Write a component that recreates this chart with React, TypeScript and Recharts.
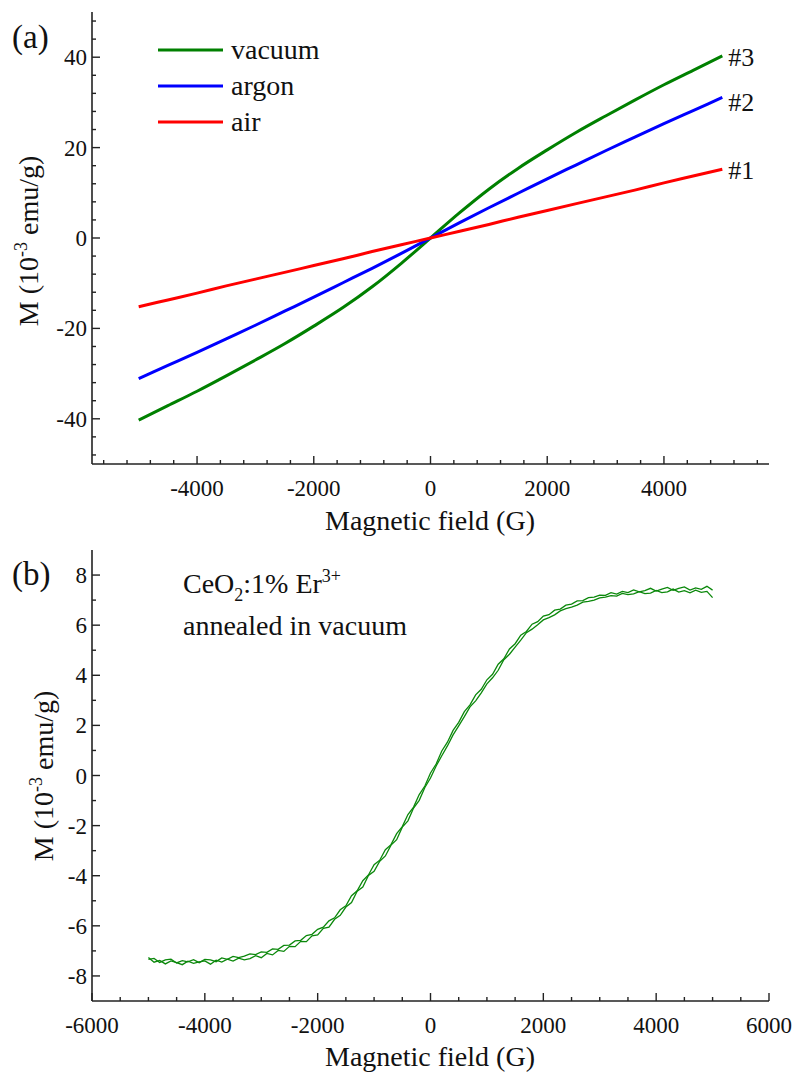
import { Legend, Line, LineChart, XAxis, YAxis } from "recharts";

const FONT = '"Liberation Serif", "Times New Roman", serif';
const AXIS = "#222";

// (a) M-H curves, field in G, M in 10^-3 emu/g
const fieldA = [-5000, -4500, -4000, -3500, -3000, -2500, -2000, -1500, -1000, -500, 0, 500, 1000, 1500, 2000, 2500, 3000, 3500, 4000, 4500, 5000];
const vacuum = [-40.3, -37.1, -33.9, -30.5, -27.0, -23.4, -19.5, -15.4, -10.8, -5.6, 0, 5.6, 10.8, 15.4, 19.5, 23.4, 27.0, 30.5, 33.9, 37.1, 40.3];
const argon = [-31.1, -28.2, -25.3, -22.3, -19.3, -16.2, -13.1, -9.9, -6.7, -3.4, 0, 3.4, 6.7, 9.9, 13.1, 16.2, 19.3, 22.3, 25.3, 28.2, 31.1];
const air = [-15.2, -13.7, -12.2, -10.6, -9.1, -7.6, -6.1, -4.6, -3.0, -1.5, 0, 1.5, 3.0, 4.6, 6.1, 7.6, 9.1, 10.6, 12.2, 13.7, 15.2];
const legendOrder = ["vacuum", "argon", "air"];

const xTicksA = [-5600, -5200, -4800, -4400, -4000, -3600, -3200, -2800, -2400, -2000, -1600, -1200, -800, -400, 0, 400, 800, 1200, 1600, 2000, 2400, 2800, 3200, 3600, 4000, 4400, 4800, 5200, 5600];
const yTicksA = [-48, -44, -40, -36, -32, -28, -24, -20, -16, -12, -8, -4, 0, 4, 8, 12, 16, 20, 24, 28, 32, 36, 40, 44, 48];

// (b) CeO2:1% Er3+ annealed in vacuum, two sweep branches
const fieldB = [
  -5000, -4900, -4800, -4700, -4600, -4500, -4400, -4300, -4200, -4100,
  -4000, -3900, -3800, -3700, -3600, -3500, -3400, -3300, -3200, -3100,
  -3000, -2900, -2800, -2700, -2600, -2500, -2400, -2300, -2200, -2100,
  -2000, -1900, -1800, -1700, -1600, -1500, -1400, -1300, -1200, -1100,
  -1000, -900, -800, -700, -600, -500, -400, -300, -200, -100,
  0,
  100, 200, 300, 400, 500, 600, 700, 800, 900, 1000,
  1100, 1200, 1300, 1400, 1500, 1600, 1700, 1800, 1900, 2000,
  2100, 2200, 2300, 2400, 2500, 2600, 2700, 2800, 2900, 3000,
  3100, 3200, 3300, 3400, 3500, 3600, 3700, 3800, 3900, 4000,
  4100, 4200, 4300, 4400, 4500, 4600, 4700, 4800, 4900, 5000,
];
const sweepUp = [
  -7.26, -7.45, -7.38, -7.52, -7.40, -7.47, -7.55, -7.41, -7.50, -7.44,
  -7.40, -7.53, -7.37, -7.45, -7.33, -7.41, -7.29, -7.36, -7.31, -7.19,
  -7.27, -7.10, -7.16, -6.98, -7.02, -6.82, -6.83, -6.62, -6.63, -6.40,
  -6.36, -6.10, -6.05, -5.74, -5.58, -5.25, -5.07, -4.62, -4.45, -3.99,
  -3.82, -3.42, -3.21, -2.78, -2.56, -2.06, -1.81, -1.30, -0.99, -0.48,
  -0.10,
  0.38, 0.79, 1.18, 1.62, 1.98, 2.35, 2.74, 2.98, 3.30, 3.66,
  3.90, 4.20, 4.62, 4.84, 5.12, 5.40, 5.70, 5.84, 6.02, 6.21,
  6.30, 6.41, 6.57, 6.66, 6.72, 6.80, 6.92, 6.95, 7.00, 7.09,
  7.12, 7.18, 7.16, 7.27, 7.22, 7.25, 7.34, 7.26, 7.28, 7.39,
  7.30, 7.33, 7.44, 7.32, 7.38, 7.29, 7.40, 7.31, 7.35, 7.10,
];
const sweepDown = [
  -7.34, -7.30, -7.46, -7.36, -7.33, -7.48, -7.39, -7.44, -7.35, -7.47,
  -7.34, -7.36, -7.43, -7.28, -7.34, -7.22, -7.27, -7.21, -7.12, -7.15,
  -7.04, -7.06, -6.92, -6.94, -6.78, -6.77, -6.60, -6.58, -6.39, -6.34,
  -6.14, -6.05, -5.80, -5.68, -5.36, -5.20, -4.80, -4.60, -4.20, -3.97,
  -3.56, -3.38, -2.96, -2.76, -2.32, -2.04, -1.56, -1.26, -0.76, -0.42,
  0.10,
  0.46, 0.98, 1.33, 1.80, 2.12, 2.55, 2.82, 3.22, 3.44, 3.82,
  4.04, 4.44, 4.66, 5.05, 5.26, 5.60, 5.75, 6.04, 6.14, 6.36,
  6.42, 6.60, 6.64, 6.80, 6.84, 6.97, 6.98, 7.10, 7.12, 7.20,
  7.19, 7.30, 7.24, 7.35, 7.30, 7.41, 7.33, 7.38, 7.47, 7.36,
  7.44, 7.51, 7.39, 7.47, 7.53, 7.40, 7.49, 7.43, 7.55, 7.40,
];

const xTicksB = [-6000, -5500, -5000, -4500, -4000, -3500, -3000, -2500, -2000, -1500, -1000, -500, 0, 500, 1000, 1500, 2000, 2500, 3000, 3500, 4000, 4500, 5000, 5500, 6000];
const yTicksB = [-8, -7, -6, -5, -4, -3, -2, -1, 0, 1, 2, 3, 4, 5, 6, 7, 8];

const dataA = fieldA.map((h, i) => ({ h, vacuum: vacuum[i], argon: argon[i], air: air[i] }));
const dataB = fieldB.map((h, i) => ({ h, up: sweepUp[i], down: sweepDown[i] }));

const isMajor = (v: number, step: number) => Math.abs(v % step) < 1e-6;

const xTick = (step: number) => (props: any) => {
  const { x, y, payload } = props;
  const major = isMajor(payload.value, step);
  return (
    <g>
      <line x1={x} x2={x} y1={y} y2={y - (major ? 8 : 4)} stroke={AXIS} strokeWidth={1.4} />
      {major ? (
        <text x={x} y={y + 32} textAnchor="middle" fontFamily={FONT} fontSize={23} fill="#111">
          {payload.value}
        </text>
      ) : null}
    </g>
  );
};

const yTick = (step: number) => (props: any) => {
  const { x, y, payload } = props;
  const major = isMajor(payload.value, step);
  return (
    <g>
      <line x1={x} x2={x + (major ? 8 : 4)} y1={y} y2={y} stroke={AXIS} strokeWidth={1.4} />
      {major ? (
        <text x={x - 5} y={y + 8} textAnchor="end" fontFamily={FONT} fontSize={23} fill="#111">
          {payload.value}
        </text>
      ) : null}
    </g>
  );
};

const endLabel = (text: string, dy: number) => (props: any) =>
  props.index === fieldA.length - 1 ? (
    <text x={props.x + 6} y={props.y + dy} fontFamily={FONT} fontSize={26} fill="#111">
      {text}
    </text>
  ) : null;

function LegendBox({ payload }: any) {
  const items = [...(payload || [])].sort(
    (a: any, b: any) => legendOrder.indexOf(a.value) - legendOrder.indexOf(b.value)
  );
  return (
    <div style={{ fontFamily: FONT, fontSize: 28, color: "#111" }}>
      {items.map((p: any) => (
        <div key={p.value} style={{ display: "flex", alignItems: "center", height: 36 }}>
          <svg width={65} height={6}>
            <line x1={0} x2={65} y1={3} y2={3} stroke={p.color} strokeWidth={3} />
          </svg>
          <span style={{ marginLeft: 8, lineHeight: "36px" }}>{p.value}</span>
        </div>
      ))}
    </div>
  );
}

export default function App() {
  return (
    <div style={{ position: "absolute", left: 0, top: 0, width: 796, height: 1073, background: "#fff" }}>
      <div style={{ position: "absolute", left: 0, top: 0 }}>
        <LineChart width={796} height={540} data={dataA} margin={{ top: 12, right: 27, left: 32, bottom: 36 }}>
          <XAxis type="number" dataKey="h" domain={[-5800, 5800]} ticks={xTicksA} interval={0} height={40}
            tickSize={0} tickMargin={0} tickLine={false} tick={xTick(2000)} axisLine={{ stroke: AXIS, strokeWidth: 1.6 }} />
          <YAxis type="number" domain={[-50, 50]} ticks={yTicksA} interval={0} width={60}
            tickSize={0} tickMargin={0} tickLine={false} tick={yTick(20)} axisLine={{ stroke: AXIS, strokeWidth: 1.6 }} />
          <Legend layout="horizontal" verticalAlign="middle" align="center" content={<LegendBox />}
            wrapperStyle={{ left: 158, top: 32, width: 200, height: 110 }} />
          <Line dataKey="vacuum" name="vacuum" type="monotone" stroke="#008000" strokeWidth={3} dot={false}
            isAnimationActive={false} label={endLabel("#3", 10)} />
          <Line dataKey="argon" name="argon" type="monotone" stroke="#0000ff" strokeWidth={3} dot={false}
            isAnimationActive={false} label={endLabel("#2", 14)} />
          <Line dataKey="air" name="air" type="monotone" stroke="#ff0000" strokeWidth={3} dot={false}
            isAnimationActive={false} label={endLabel("#1", 10)} />
        </LineChart>
      </div>
      <div style={{ position: "absolute", left: 0, top: 540 }}>
        <LineChart width={796} height={533} data={dataB} margin={{ top: 10, right: 27, left: 32, bottom: 32 }}>
          <XAxis type="number" dataKey="h" domain={[-6000, 6000]} ticks={xTicksB} interval={0} height={40}
            tickSize={0} tickMargin={0} tickLine={false} tick={xTick(2000)} axisLine={{ stroke: AXIS, strokeWidth: 1.6 }} />
          <YAxis type="number" domain={[-9, 9]} ticks={yTicksB} interval={0} width={60}
            tickSize={0} tickMargin={0} tickLine={false} tick={yTick(2)} axisLine={{ stroke: AXIS, strokeWidth: 1.6 }} />
          <Line dataKey="up" type="linear" stroke="#0b880b" strokeWidth={1.3} dot={false} isAnimationActive={false} />
          <Line dataKey="down" type="linear" stroke="#0b880b" strokeWidth={1.3} dot={false} isAnimationActive={false} />
        </LineChart>
      </div>
      <svg width={796} height={1073} style={{ position: "absolute", left: 0, top: 0, pointerEvents: "none" }}
        fontFamily={FONT} fill="#111">
        <text x={12} y={48} fontSize={33}>(a)</text>
        <text x={12} y={585} fontSize={33}>(b)</text>
        <text x={430} y={530} fontSize={28} textAnchor="middle">Magnetic field (G)</text>
        <text x={430} y={1066} fontSize={28} textAnchor="middle">Magnetic field (G)</text>
        <text transform="translate(38,241) rotate(-90)" fontSize={28} textAnchor="middle">
          M (10<tspan dy={-11} fontSize={18}>-3</tspan><tspan dy={11}> emu/g)</tspan>
        </text>
        <text transform="translate(53,776) rotate(-90)" fontSize={28} textAnchor="middle">
          M (10<tspan dy={-11} fontSize={18}>-3</tspan><tspan dy={11}> emu/g)</tspan>
        </text>
        <text x={183} y={593} fontSize={28}>
          CeO<tspan dy={8} fontSize={18}>2</tspan><tspan dy={-8}>:1% Er</tspan><tspan dy={-11} fontSize={18}>3+</tspan>
        </text>
        <text x={183} y={635} fontSize={28}>annealed in vacuum</text>
      </svg>
    </div>
  );
}
